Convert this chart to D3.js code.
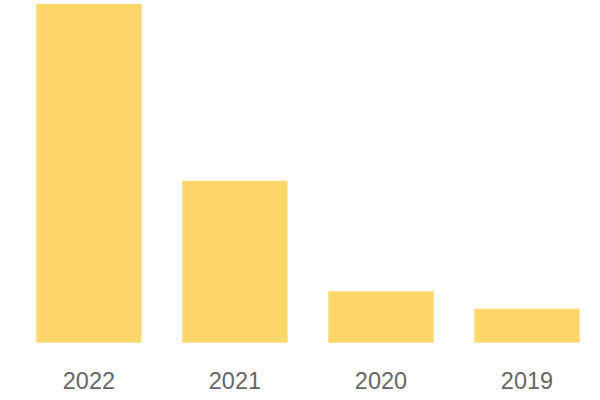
<!DOCTYPE html>
<html><head><meta charset="utf-8">
<script src="https://cdn.jsdelivr.net/npm/d3@7"></script>
<style>html,body{margin:0;padding:0;background:#fff;}svg{display:block;}</style>
</head><body>
<svg id="c" width="600" height="400"></svg>
<script>
const categories = ["2022", "2021", "2020", "2019"];
const values = [339, 162, 51.5, 34];

const svg = d3.select("#c");
const x = d3.scaleBand().domain(categories).range([36.3, 579.6]).paddingInner(0.279).paddingOuter(0);
const y = d3.scaleLinear().domain([0, 339]).range([342.7, 4]);

svg.selectAll("rect").data(categories).join("rect")
  .attr("x", d => x(d))
  .attr("width", x.bandwidth())
  .attr("y", (d, i) => y(values[i]))
  .attr("height", (d, i) => y(0) - y(values[i]))
  .attr("fill", "#FED66A");

const axis = d3.axisBottom(x).tickSize(0).tickPadding(0);
const g = svg.append("g").attr("transform", `translate(0,${y(0)})`).call(axis);
g.select(".domain").remove();
g.selectAll("text")
  .attr("dy", null)
  .attr("y", 46)
  .attr("font-family", "Liberation Sans, Arial, sans-serif")
  .attr("font-size", 23.5)
  .attr("fill", "#666666");
</script>
</body></html>
